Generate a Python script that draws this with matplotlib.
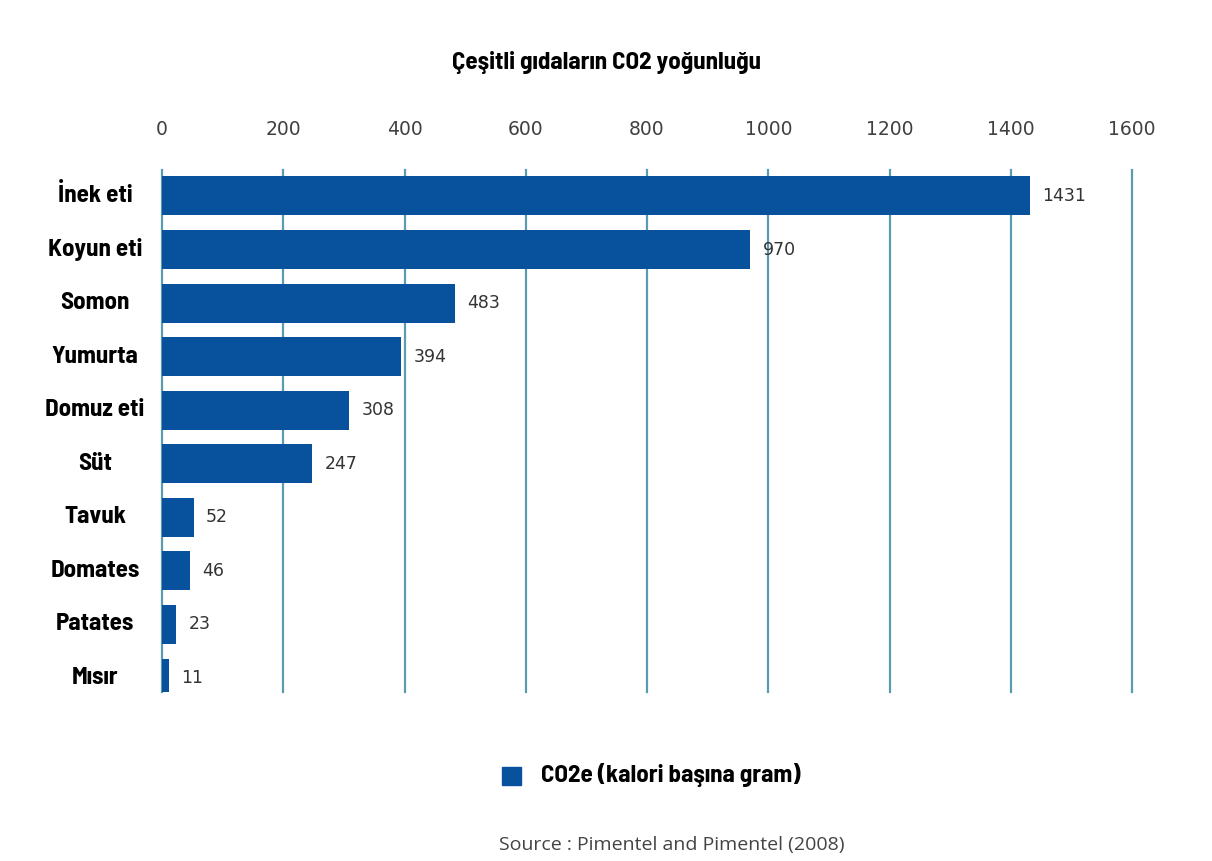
import matplotlib.pyplot as plt
from matplotlib.patches import Rectangle
from matplotlib.transforms import blended_transform_factory

# data
foods = ["İnek eti", "Koyun eti", "Somon", "Yumurta", "Domuz eti",
         "Süt", "Tavuk", "Domates", "Patates", "Mısır"]
co2 = [1431, 970, 483, 394, 308, 247, 52, 46, 23, 11]
ticks = [0, 200, 400, 600, 800, 1000, 1200, 1400, 1600]

bar_color = "#08519c"
grid_color = "#5a9bb2"
narrow = ["Barlow Semi Condensed", "DejaVu Sans"]
plain = ["Open Sans", "DejaVu Sans"]

fig = plt.figure(figsize=(12.12, 8.61), dpi=100)
ax = fig.add_axes([0.1337, 0.1963, 0.8003, 0.6063])

ypos = list(range(len(foods)))
ax.barh(ypos, co2, height=0.73, color=bar_color, zorder=3)

ax.set_xlim(0, 1600)
ax.set_ylim(9.26, -0.485)
ax.set_xticks(ticks)
ax.xaxis.tick_top()
ax.tick_params(axis="x", length=0, pad=22, labelsize=13.5, labelcolor="#404040")
ax.set_yticks([])
for t in ticks:
    ax.axvline(t, color=grid_color, lw=1.6, zorder=1, clip_on=False)
for s in ax.spines.values():
    s.set_visible(False)

# category labels, centred in the left margin
trans = blended_transform_factory(fig.transFigure, ax.transData)
for y, name in zip(ypos, foods):
    fig.text(95 / 1212, y, name, transform=trans, ha="center", va="center",
             fontsize=18, fontweight="bold", family=narrow)

# value labels
for y, v in zip(ypos, co2):
    ax.annotate(str(v), (v, y), xytext=(9, 0), textcoords="offset points",
                ha="left", va="center", fontsize=12.5, color="#333333", zorder=4)

fig.text(0.5, 1 - 62 / 861, "Çeşitli gıdaların CO2 yoğunluğu", ha="center", va="center",
         fontsize=18, fontweight="bold", family=narrow)

# legend
fig.patches.append(Rectangle((502 / 1212, 1 - 785 / 861), 19 / 1212, 18 / 861,
                             transform=fig.transFigure, color=bar_color))
fig.text(541 / 1212, 1 - 775 / 861, "CO2e (kalori başına gram)", ha="left", va="center",
         fontsize=18, fontweight="bold", family=narrow)

fig.text(672 / 1212, 1 - 845 / 861, "Source : Pimentel and Pimentel (2008)", ha="center",
         va="center", fontsize=14, color="#444444", family=plain)

fig.savefig("out.png", dpi=100, facecolor="white")
